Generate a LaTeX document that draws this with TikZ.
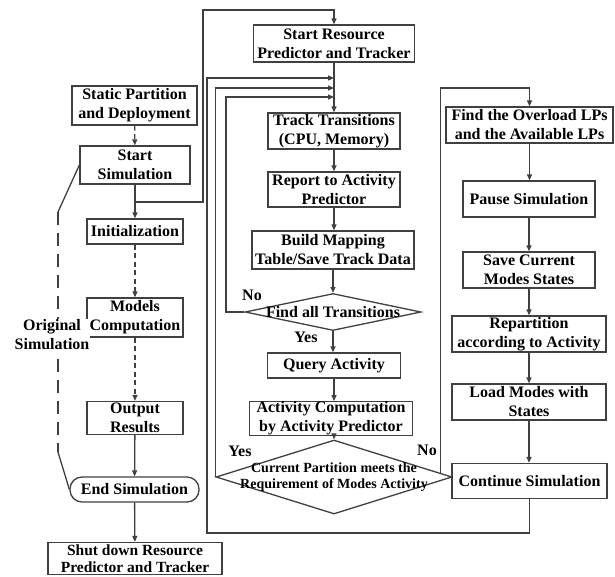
\documentclass[tikz,border=0pt]{standalone}
\usepackage{fontspec}
\setmainfont{Liberation Serif}
\usetikzlibrary{arrows.meta,shapes.geometric,calc}

\begin{document}
\begin{tikzpicture}[x=1pt,y=-1pt,
  every node/.style={font=\bfseries\fontsize{16}{19}\selectfont},
  stepbox/.style={draw=black!75, line width=1.3pt, rectangle, inner sep=0pt, align=center},
  termbox/.style={stepbox, rounded corners=12pt},
  decision/.style={draw=black!75, line width=1.3pt, diamond, inner sep=0pt},
  conn/.style={draw=black!75, line width=1.3pt},
  arr/.style={conn, -{Triangle[length=6pt,width=5pt]}},
  shortdash/.style={dash pattern=on 5pt off 3.5pt},
  longdash/.style={dash pattern=on 13pt off 8pt},
  lbl/.style={inner sep=0pt}
]
\useasboundingbox (0,0) rectangle (615,576);
\fill[white] (0,0) rectangle (615,576);

% ---- simulation column ----
\node[stepbox, minimum width=125pt, minimum height=39pt] (spd) at (134.5,105.5) {Static Partition\\and Deployment};
\node[stepbox, minimum width=110pt, minimum height=38pt] (ss) at (135,165) {Start\\Simulation};
\node[stepbox, minimum width=96pt, minimum height=25pt] (init) at (135,231.5) {Initialization};
\node[stepbox, minimum width=96pt, minimum height=39pt] (mc) at (135,317.5) {Models\\Computation};
\node[stepbox, minimum width=96pt, minimum height=33pt] (out) at (135,418) {Output\\Results};
\node[termbox, minimum width=129pt, minimum height=25pt] (es) at (134.5,489.5) {End Simulation};
\node[stepbox, minimum width=174pt, minimum height=32pt,
      font=\bfseries\fontsize{15.5}{17}\selectfont] (sd) at (135,558.5) {Shut down Resource\\Predictor and Tracker};

% ---- resource predictor and tracker column ----
\node[stepbox, minimum width=161pt, minimum height=37pt] (srp) at (334,43.5) {Start Resource\\Predictor and Tracker};
\node[stepbox, minimum width=132pt, minimum height=36pt] (tt) at (334,131) {Track Transitions\\(CPU, Memory)};
\node[stepbox, minimum width=132pt, minimum height=35pt] (rap) at (334,189.5) {Report to Activity\\Predictor};
\node[stepbox, minimum width=162pt, minimum height=38pt] (bmt) at (333,250) {Build Mapping\\Table/Save Track Data};
\node[decision, minimum width=176pt, minimum height=37pt,
      label={[lbl]center:Find all Transitions}] (fat) at (333,312) {};
\node[stepbox, minimum width=133pt, minimum height=25pt] (qa) at (334,365.5) {Query Activity};
\node[stepbox, minimum width=163pt, minimum height=33pt] (acp) at (331,418.5) {Activity Computation\\by Activity Predictor};
\node[decision, minimum width=236pt, minimum height=74pt,
      label={[lbl, align=center, font=\bfseries\fontsize{14}{16.5}\selectfont]center:Current Partition meets the\\Requirement of Modes Activity}] (cpd) at (334,477) {};

% ---- repartition column ----
\node[stepbox, minimum width=167pt, minimum height=36pt] (fol) at (529.5,125) {Find the Overload LPs\\and the Available LPs};
\node[stepbox, minimum width=132pt, minimum height=36pt] (ps) at (529,199) {Pause Simulation};
\node[stepbox, minimum width=132pt, minimum height=36pt] (scm) at (529,270) {Save Current\\Modes States};
\node[stepbox, minimum width=154pt, minimum height=36pt] (rep) at (529,334) {Repartition\\according to Activity};
\node[stepbox, minimum width=154pt, minimum height=36pt] (lm) at (529,402) {Load Modes with\\States};
\node[stepbox, minimum width=155pt, minimum height=35pt] (cs) at (529.5,481) {Continue Simulation};

% ---- bend points ----
\coordinate (j1) at (135,202);
\coordinate (upL) at (203,10);
\coordinate (in1) at (334,78);
\coordinate (in2) at (334,88);
\coordinate (in3) at (334,97);
\coordinate (lp1) at (207,533);
\coordinate (nb) at (226,97);
\coordinate (nc) at ($(cpd.north)!0.898!(cpd.east)$);
\coordinate (fr) at (440,88);
\coordinate (os1) at (58,212);
\coordinate (os2) at (58,452);

% ---- simulation flow ----
\draw[arr, shortdash] (spd) -- (ss);
\draw[arr] (ss) -- (init);
\draw[arr, shortdash] (init) -- (mc);
\draw[arr, shortdash] (mc) -- (out);
\draw[arr] (out) -- (es);
\draw[arr] (es) -- (sd);
\draw[arr] (j1) -| (upL) -| (srp.north);

% ---- tracker flow ----
\draw[arr] (srp) -- (tt.north);
\draw[arr] (tt) -- (rap);
\draw[arr] (rap.south) -- (rap.south |- bmt.north);
\draw[arr] (bmt.south) -- (bmt.south |- fat.north);
\draw[arr] (fat.south) -- (fat.south |- qa.north);
\draw[arr] (qa.south) -- (qa.south |- acp.north);
\draw[arr] (qa.south |- acp.south) -- (cpd.north);
\draw[arr] (fat.west) -| (nb) -- (in3);
\draw[arr] (cpd.west) -- (cpd.west |- in2) -- (in2);
\draw[arr] (cs.south) |- (lp1) |- (in1);
\draw[arr] (nc) -- (nc |- fr) -| (fol.north);

% ---- repartition flow ----
\draw[arr] (fol.south) -- (fol.south |- ps.north);
\draw[arr] (ps) -- (scm);
\draw[arr] (scm) -- (scm.south |- rep.north);
\draw[arr] (rep.south) -- (rep.south |- lm.north);
\draw[arr] (lm.south) -- (lm.south |- cs.north);

% ---- branch labels ----
\node[lbl] (no1) at (252,295) {No};
\node[lbl] (yes1) at (306,337) {Yes};
\node[lbl] (yes2) at (240,451) {Yes};
\node[lbl] (no2) at (427,450) {No};

% ---- original simulation bracket ----
\draw[conn] (ss.west) -- (os1);
\draw[conn, longdash] (os1) -- (os2);
\draw[conn] (os2) -- (es.west);
\node[fill=white, align=center, inner sep=1pt] (ost) at (52,335) {Original\\Simulation};
\end{tikzpicture}
\end{document}
